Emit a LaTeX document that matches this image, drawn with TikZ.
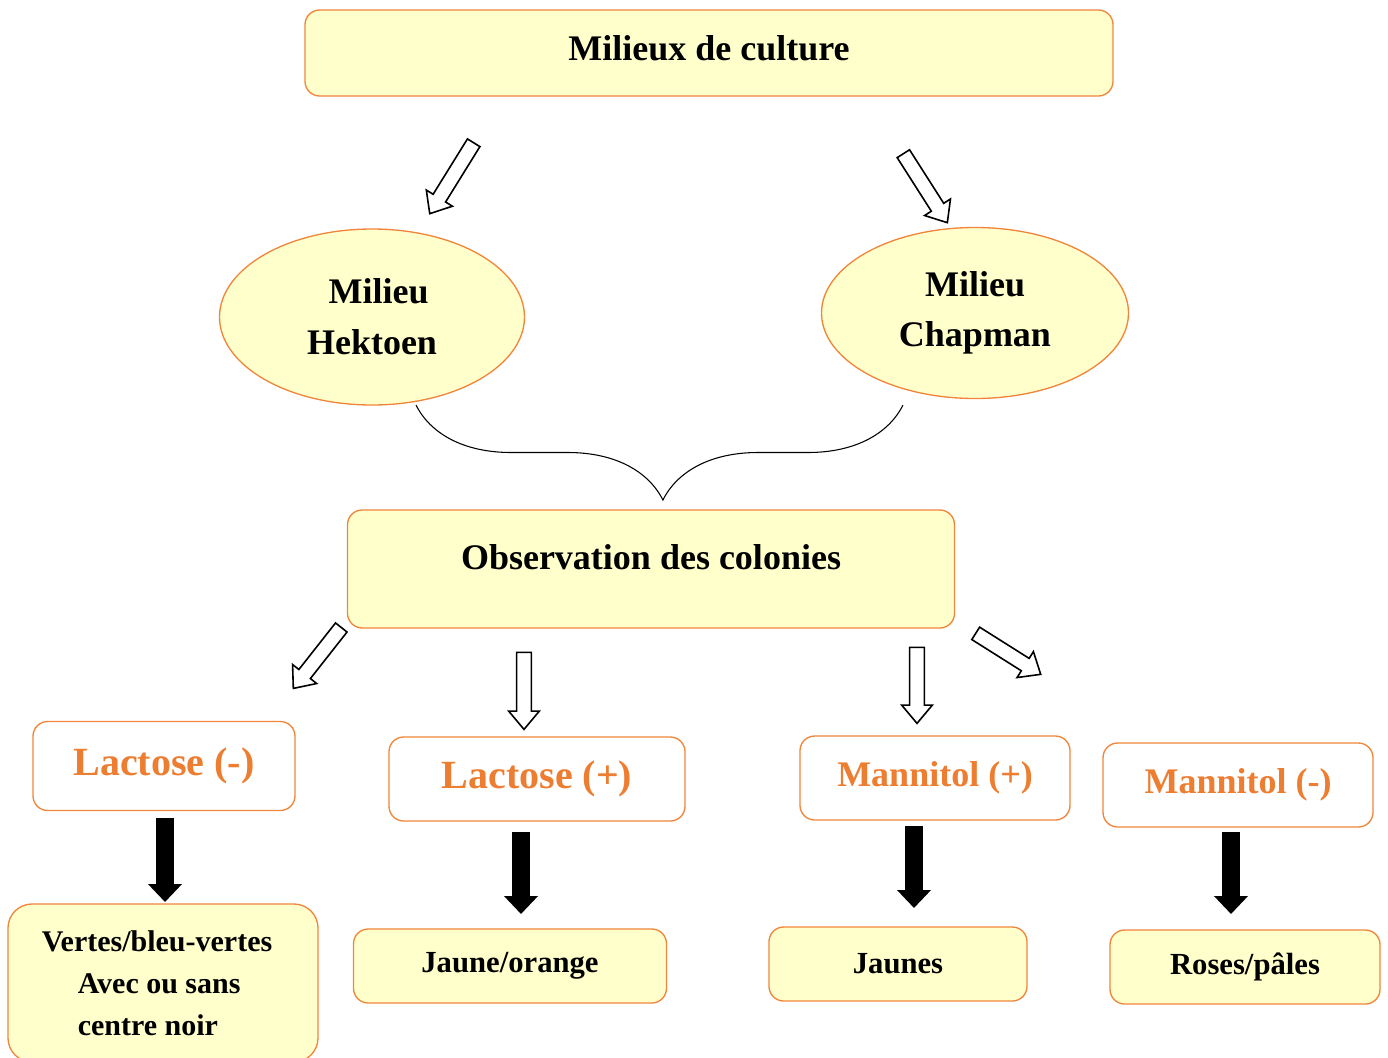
\documentclass[tikz,border=0pt]{standalone}
\usepackage{fontspec}
\setmainfont{Liberation Serif}
\usetikzlibrary{shapes.geometric}
\usetikzlibrary{shapes.arrows}
\usetikzlibrary{arrows.meta}
\usetikzlibrary{calc}
\usetikzlibrary{decorations.pathreplacing}
\usepackage{xcolor}

\definecolor{boxfill}{RGB}{255,255,204}
\definecolor{boxline}{RGB}{240,134,60}
\definecolor{sugartext}{RGB}{237,125,49}

\tikzset{
  yellowbox/.style={draw=boxline, fill=boxfill, line width=1pt, rounded corners=11pt,
    outer sep=0pt, inner sep=0pt, font=\bfseries\fontsize{27}{32}\selectfont},
  milieu/.style={ellipse, draw=boxline, fill=boxfill, line width=1pt, outer sep=0pt,
    inner sep=0pt, align=center, font=\bfseries\fontsize{27}{38}\selectfont},
  sugarbox/.style={draw=boxline, fill=white, line width=1pt, rounded corners=11pt,
    outer sep=0pt, inner sep=0pt, text=sugartext, font=\bfseries\fontsize{27}{32}\selectfont},
  resultbox/.style={yellowbox, font=\bfseries\fontsize{23}{28}\selectfont},
  hollowarr/.style={single arrow, draw=black, fill=white, line width=1.2pt, inner sep=4.9pt,
    single arrow head extend=6pt, single arrow tip angle=80},
  fatarrow/.style={line width=13.5pt, -{Triangle[width=24.75pt,length=13.5pt]}},
}

% hollow block arrow from #1 to #2
\newcommand{\hollowarrow}[2]{%
  \path let \p1=($(#2)-(#1)$), \n1={atan2(\y1,\x1)}, \n2={veclen(\x1,\y1)} in
    node[hollowarr, rotate=\n1, minimum height=\n2] at ($(#1)!0.5!(#2)$) {};}

\begin{document}
\begin{tikzpicture}[x=0.75pt, y=-0.75pt]
  \useasboundingbox (0,0) rectangle (1388,1057);

  \node[yellowbox, minimum width=606pt, minimum height=64.5pt] (cult) at (709,53) {\raisebox{7.5pt}{Milieux de culture}};

  \node[milieu, minimum width=228.75pt, minimum height=132pt] (hek) at (372,317) {\hspace*{10pt}Milieu\\Hektoen};
  \node[milieu, minimum width=230.25pt, minimum height=128.25pt] (chap) at (975,313) {Milieu\\Chapman};

  \node[yellowbox, minimum width=455.25pt, minimum height=88.5pt] (obs) at (651,569) {\raisebox{18pt}{Observation des colonies}};

  \node[sugarbox, font=\bfseries\fontsize{30}{36}\selectfont, minimum width=196.5pt, minimum height=66.75pt] (lacm) at (164,766) {Lactose (-)};
  \node[sugarbox, font=\bfseries\fontsize{30}{36}\selectfont, minimum width=222pt, minimum height=63pt] (lacp) at (537,779) {Lactose (+)};
  \node[sugarbox, minimum width=202.5pt, minimum height=63pt] (manp) at (935,778) {Mannitol (+)};
  \node[sugarbox, minimum width=202.5pt, minimum height=63pt] (manm) at (1238,785) {Mannitol (-)};

  \node[resultbox, rounded corners=18pt, font=\bfseries\fontsize{22.5}{31.5}\selectfont, align=left,
    minimum width=232.5pt, minimum height=118.5pt] (vert) at (163,983)
    {Vertes/bleu-vertes\hspace*{9pt}\\\hspace*{27pt}Avec ou sans\\\hspace*{27pt}centre noir};
  \node[resultbox, minimum width=234.75pt, minimum height=55.5pt] (jor) at (510,966) {Jaune/orange};
  \node[resultbox, minimum width=193.5pt, minimum height=55.5pt] (jaun) at (898,964) {Jaunes};
  \node[resultbox, minimum width=202.5pt, minimum height=55.5pt] (rose) at (1245,967) {Roses/p\^ales};

  % hollow arrows
  \coordinate (hekA) at (476,139);  \coordinate (hekB) at (432,210);
  \coordinate (chapA) at (901,150); \coordinate (chapB) at (945,219);
  \coordinate (lacmA) at (344,624); \coordinate (lacmB) at (296,685);
  \coordinate (lacpA) at (524,648); \coordinate (lacpB) at (524,725);
  \coordinate (manpA) at (917,643); \coordinate (manpB) at (917,719);
  \coordinate (manmA) at (972,631); \coordinate (manmB) at (1037,672);
  \hollowarrow{hekA}{hekB}
  \hollowarrow{chapA}{chapB}
  \hollowarrow{lacmA}{lacmB}
  \hollowarrow{lacpA}{lacpB}
  \hollowarrow{manpA}{manpB}
  \hollowarrow{manmA}{manmB}

  % brace
  \coordinate (braceL) at (416,405);
  \coordinate (braceR) at (903,405);
  \draw[line width=0.8pt, decorate, decoration={brace, mirror, amplitude=71.25pt, aspect=0.507}] (braceL) -- (braceR);

  % black arrows
  \coordinate (s1) at ([xshift=0.75pt]lacm.south);
  \coordinate (s2) at ([xshift=-12pt]lacp.south);
  \coordinate (s3) at ([xshift=-15.75pt]manp.south);
  \coordinate (s4) at ([xshift=-5.25pt]manm.south);
  \draw[fatarrow, shorten <=5.6pt, shorten >=1.5pt] (s1) -- (s1 |- vert.north);
  \draw[fatarrow, shorten <=8.25pt, shorten >=11.25pt] (s2) -- (s2 |- jor.north);
  \draw[fatarrow, shorten <=4.5pt, shorten >=14.25pt] (s3) -- (s3 |- jaun.north);
  \draw[fatarrow, shorten <=3.75pt, shorten >=12pt] (s4) -- (s4 |- rose.north);

\end{tikzpicture}
\end{document}
